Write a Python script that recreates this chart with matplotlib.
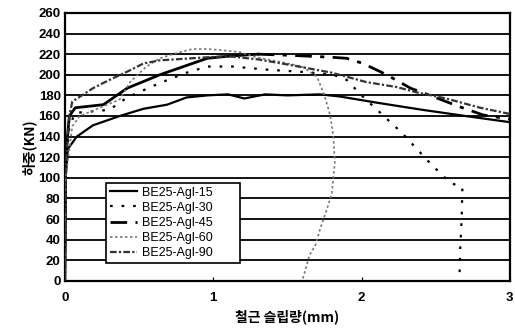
import matplotlib.pyplot as plt
import numpy as np

plt.rcParams['font.family'] = ['Liberation Sans', 'Noto Sans CJK KR', 'DejaVu Sans']

# slip (mm) / load (kN)
x15 = [0, 0.005, 0.02, 0.08, 0.19, 0.37, 0.53, 0.69, 0.82, 0.96, 1.1, 1.21, 1.35, 1.5, 1.72, 1.85, 2.1, 2.41, 2.7, 3.0]
y15 = [0, 100, 128, 140, 151, 160, 167, 171, 178, 180, 181, 177, 181, 180, 181, 179, 173, 166, 160, 154]

x30 = [0, 0.005, 0.03, 0.07, 0.3, 0.42, 0.64, 0.82, 0.96, 1.13, 1.36, 1.58, 1.67, 1.81, 1.9, 2.0, 2.09, 2.18, 2.27, 2.36, 2.47, 2.6, 2.68, 2.675, 2.665, 2.66]
y30 = [0, 110, 150, 163, 166, 178, 192, 202, 208, 208, 205, 203, 202, 200, 195, 180, 168, 156, 144, 130, 113, 95, 91, 60, 30, 0]

x45 = [0, 0.005, 0.03, 0.07, 0.26, 0.42, 0.64, 0.96, 1.1, 1.3, 1.5, 1.8, 1.9, 2.01, 2.17, 2.33, 2.48, 2.66, 2.82, 3.0]
y45 = [0, 120, 160, 168, 171, 187, 200, 216, 218, 220, 219, 217, 216, 211, 200, 187, 179, 169, 161, 157]

x60 = [0, 0.005, 0.05, 0.1, 0.37, 0.44, 0.55, 0.64, 0.75, 0.86, 0.96, 1.05, 1.18, 1.29, 1.47, 1.6, 1.7, 1.75, 1.79, 1.81, 1.82, 1.8, 1.77, 1.72, 1.69, 1.65, 1.6]
y60 = [0, 100, 150, 160, 176, 193, 208, 216, 221, 225, 225, 224, 222, 217, 212, 208, 198, 180, 160, 140, 115, 85, 71, 50, 35, 25, 0]

x90 = [0, 0.005, 0.03, 0.05, 0.19, 0.3, 0.42, 0.53, 0.64, 0.96, 1.1, 1.3, 1.5, 1.8, 2.03, 2.24, 2.37, 2.57, 2.8, 3.0]
y90 = [0, 110, 160, 174, 187, 195, 203, 211, 214, 217, 218, 215, 210, 202, 193, 188, 183, 177, 168, 162]

fig = plt.figure(figsize=(5.15, 3.32), dpi=100)
ax = fig.add_axes([0.126, 0.154, 0.864, 0.807])

for yv in range(20, 260, 20):
    ax.axhline(yv, color='black', lw=1.3, zorder=1)

ax.plot(x15, y15, color='black', lw=1.6, label='BE25-Agl-15', zorder=3)
ax.plot(x30, y30, color='black', lw=1.6, ls=(0, (1.2, 4)), label='BE25-Agl-30', zorder=3)
# rising part of Agl-45 is dense enough to look solid
n45 = x45.index(1.3) + 1
ax.plot(x45[:n45], y45[:n45], color='black', lw=2.0, zorder=3)
ax.plot(x45[n45 - 1:], y45[n45 - 1:], color='black', lw=2.0, ls=(0, (6, 3, 1.5, 3)), zorder=3)
ax.plot([], [], color='black', lw=2.0, ls=(0, (6, 3, 1.5, 3)), label='BE25-Agl-45')
ax.plot(x60, y60, color='#777777', lw=1.2, ls=(0, (1.5, 1.5)), label='BE25-Agl-60', zorder=3)
ax.plot(x90, y90, color='#333333', lw=1.6, ls=(0, (3, 1, 1, 1)), label='BE25-Agl-90', zorder=3)

ax.set_xlim(0, 3)
ax.set_ylim(0, 260)
ax.set_xticks([0, 1, 2, 3])
ax.set_yticks(range(0, 261, 20))
ax.tick_params(axis='x', direction='in', length=3, pad=8, labelsize=9.5)
ax.tick_params(axis='y', length=0, pad=3, labelsize=9.5)
for lab in ax.get_xticklabels() + ax.get_yticklabels():
    lab.set_fontweight('bold')
for s in ax.spines.values():
    s.set_linewidth(1.6)

ax.set_xlabel('철근 슬립량(mm)', fontsize=10, fontweight='bold',
              family=['Noto Sans CJK KR', 'DejaVu Sans'], labelpad=4)
ax.set_ylabel('하중(KN)', fontsize=10, fontweight='bold',
              family=['Noto Sans CJK KR', 'DejaVu Sans'], labelpad=1)

leg = ax.legend(loc='lower left', bbox_to_anchor=(0.092, 0.067, 0.301, 0.351), mode='expand',
                fontsize=9, frameon=True, fancybox=False, edgecolor='black',
                framealpha=1, handlelength=2.2, handletextpad=0.4,
                borderpad=0.3, labelspacing=0.25, borderaxespad=0)
leg.get_frame().set_linewidth(1.2)
leg.set_zorder(5)

fig.savefig('out.png', dpi=100)
